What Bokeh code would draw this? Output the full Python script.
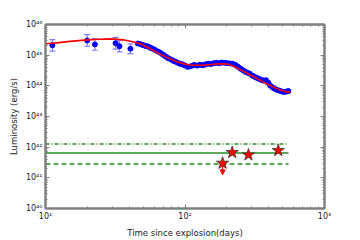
import numpy as np
from bokeh.plotting import figure
from bokeh.models import (ColumnDataSource, Whisker, TeeHead, Arrow, NormalHead,
                          LogAxis, FixedTicker, CustomJSTickFormatter, Range1d)
from bokeh.embed import file_html
from bokeh.resources import INLINE

# ---- data ----
early_days = [11.2, 19.9, 22.6, 31.8, 33.9, 40.6]
early_logL = [45.32, 45.48, 45.35, 45.39, 45.29, 45.21]
early_err = [0.19, 0.19, 0.19, 0.19, 0.18, 0.16]

dense_days = [46, 48, 50, 52, 54, 56, 58, 61, 64, 67, 70, 73, 76, 80, 84, 88, 92, 96,
              100, 105, 110, 116, 122, 128, 134, 140, 147, 154, 161, 168, 176, 184,
              192, 200, 210, 220, 230, 240, 252, 264, 276, 290, 305, 320, 335, 350,
              365, 380, 395, 410, 430, 450, 470, 490, 510, 530, 550]
dense_logL = [45.38, 45.36, 45.33, 45.30, 45.29, 45.25, 45.22, 45.17, 45.12, 45.07,
              45.01, 44.95, 44.90, 44.85, 44.80, 44.76, 44.72, 44.70, 44.66, 44.62,
              44.64, 44.68, 44.66, 44.69, 44.67, 44.70, 44.72, 44.71, 44.74, 44.75,
              44.74, 44.76, 44.75, 44.74, 44.73, 44.72, 44.68, 44.62, 44.55, 44.49,
              44.44, 44.40, 44.33, 44.28, 44.24, 44.20, 44.17, 44.18, 44.10, 44.00,
              43.93, 43.88, 43.85, 43.82, 43.80, 43.81, 43.83]
dense_err = [0.05, 0.04, 0.05, 0.04, 0.05, 0.04, 0.05, 0.04, 0.05, 0.04, 0.05, 0.04,
             0.05, 0.04, 0.05, 0.04, 0.05, 0.04, 0.05, 0.06, 0.05, 0.04, 0.05, 0.04,
             0.05, 0.04, 0.05, 0.04, 0.05, 0.04, 0.05, 0.04, 0.05, 0.04, 0.05, 0.04,
             0.05, 0.04, 0.05, 0.04, 0.05, 0.04, 0.05, 0.04, 0.05, 0.04, 0.05, 0.06,
             0.05, 0.04, 0.05, 0.04, 0.05, 0.04, 0.05, 0.04, 0.05]

model_days = [10, 12, 15, 19, 24, 30, 36, 42, 48, 54, 60, 67, 75, 84, 94, 105, 118,
              132, 148, 166, 186, 208, 233, 260, 290, 325, 365, 410, 460, 515, 570]
model_logL = [45.37, 45.40, 45.45, 45.49, 45.52, 45.53, 45.50, 45.44, 45.37, 45.25,
              45.14, 45.02, 44.92, 44.82, 44.74, 44.69, 44.67, 44.67, 44.69, 44.71,
              44.72, 44.70, 44.60, 44.48, 44.37, 44.25, 44.12, 44.01, 43.90, 43.82,
              43.78]

xray_days = [186, 218, 285, 466]
xray_L = [3.0e41, 6.7e41, 5.6e41, 7.8e41]
xray_upper_limit = [True, False, False, False]
limit_factor = 2.4

hline_span = [10, 552]
hline_dashdot = 1.28e42
hline_solid = 6.4e41
hline_dashed = 2.8e41

x_decades = [1, 2, 3]
y_decades = [40, 41, 42, 43, 44, 45, 46]

# ---- figure ----
FONT = "DejaVu Sans"
GRAY = "#808080"

p = figure(width=360, height=240, x_axis_type="log", y_axis_type="log",
           x_range=Range1d(10, 1000), y_range=Range1d(1e40, 1e46),
           output_backend="svg", toolbar_location=None,
           min_border_left=45, min_border_right=36, min_border_top=24,
           min_border_bottom=31)
p.grid.visible = False
p.background_fill_color = "white"
p.outline_line_color = GRAY
p.outline_line_width = 2

xmaj = [10.0 ** d for d in x_decades]
xmin = [k * 10.0 ** d for d in x_decades[:-1] for k in range(2, 10)]
ymaj = [10.0 ** d for d in y_decades]
ymin = [k * 10.0 ** d for d in y_decades[:-1] for k in range(2, 10)]

sup_js = """
const s = {'0':'\\u2070','1':'\\u00b9','2':'\\u00b2','3':'\\u00b3','4':'\\u2074','5':'\\u2075','6':'\\u2076','7':'\\u2077','8':'\\u2078','9':'\\u2079','-':'\\u207b'};
const e = Math.round(Math.log10(tick)).toString();
let out = '10';
for (let i = 0; i < e.length; i++) { out += s[e[i]]; }
return out;
"""

def style_axis(ax, ticks, minors, labels=True):
    ax.ticker = FixedTicker(ticks=ticks, minor_ticks=minors)
    ax.axis_line_color = GRAY
    ax.axis_line_width = 2
    ax.major_tick_line_color = GRAY
    ax.minor_tick_line_color = GRAY
    ax.major_tick_in = 4
    ax.major_tick_out = 0
    ax.minor_tick_in = 2
    ax.minor_tick_out = 0
    ax.major_tick_line_width = 1
    ax.minor_tick_line_width = 1
    ax.major_label_text_font = FONT
    if labels:
        ax.formatter = CustomJSTickFormatter(code=sup_js)
        ax.major_label_text_font_size = "8px"
        ax.major_label_text_color = "#222222"
        ax.major_label_standoff = 3
        ax.axis_label_text_font = FONT
        ax.axis_label_text_font_size = "8.5px"
        ax.axis_label_text_font_style = "normal"
        ax.axis_label_text_color = "#222222"
        ax.axis_label_standoff = 4
    else:
        ax.formatter = CustomJSTickFormatter(code="return '';")
        ax.major_label_text_font_size = "1px"
        ax.major_label_standoff = 0

style_axis(p.xaxis[0], xmaj, xmin)
style_axis(p.yaxis[0], ymaj, ymin)
p.xaxis[0].axis_label = "Time since explosion(days)"
p.yaxis[0].axis_label = "Luminosity (erg/s)"

top = LogAxis()
right = LogAxis()
style_axis(top, xmaj, xmin, labels=False)
style_axis(right, ymaj, ymin, labels=False)
p.add_layout(top, "above")
p.add_layout(right, "right")

# ---- error bars + points ----
def make_src(days, logL, err):
    return ColumnDataSource(dict(
        x=days,
        y=[10.0 ** v for v in logL],
        lo=[10.0 ** (v - e) for v, e in zip(logL, err)],
        hi=[10.0 ** (v + e) for v, e in zip(logL, err)],
    ))

for days, logL, err in [(early_days, early_logL, early_err),
                        (dense_days, dense_logL, dense_err)]:
    src = make_src(days, logL, err)
    w = Whisker(source=src, base="x", lower="lo", upper="hi",
                line_color="#8080ff", line_width=1.2,
                upper_head=TeeHead(size=6, line_color="#8080ff", line_width=1.2),
                lower_head=TeeHead(size=6, line_color="#8080ff", line_width=1.2))
    p.add_layout(w)
    p.scatter("x", "y", source=src, size=5, color="blue")

# ---- model curve ----
p.line(model_days, [10.0 ** v for v in model_logL], line_color="red", line_width=1.6)

# ---- horizontal reference lines ----
GREEN = "#2a8a2a"
p.line(hline_span, [hline_dashdot] * 2, line_color=GREEN, line_width=1.5, line_dash="4 2 1 2")
p.line(hline_span, [hline_solid] * 2, line_color=GREEN, line_width=1.5)
p.line(hline_span, [hline_dashed] * 2, line_color=GREEN, line_width=1.5, line_dash="5 3")

# ---- upper-limit arrow ----
lim_x = [d for d, u in zip(xray_days, xray_upper_limit) if u]
lim_y = [L for L, u in zip(xray_L, xray_upper_limit) if u]
arr_src = ColumnDataSource(dict(x=lim_x, y=lim_y, ye=[v / limit_factor for v in lim_y]))
p.add_layout(Arrow(source=arr_src, x_start="x", y_start="y", x_end="x", y_end="ye",
                   line_color="red", line_width=1.2,
                   end=NormalHead(size=5, fill_color="red", line_color="red")))

# ---- x-ray stars ----
p.scatter(xray_days, xray_L, marker="star", size=13, fill_color="red",
          line_color="#3a3a2a", line_width=0.8)

open("out.html", "w").write(file_html(p, INLINE))
